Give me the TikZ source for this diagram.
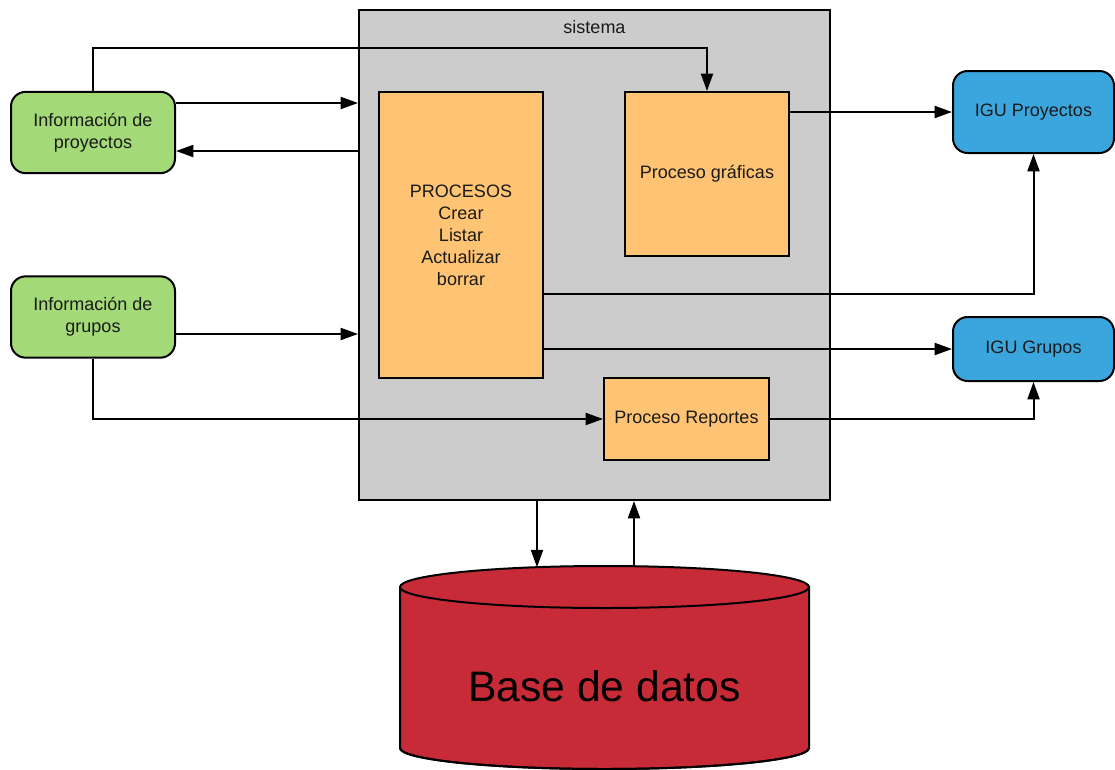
\documentclass[tikz,border=0pt]{standalone}
\usepackage{fontspec}
\setmainfont{Liberation Sans}
\usetikzlibrary{arrows.meta,calc}
\definecolor{infogreen}{HTML}{A3D977}
\definecolor{igublue}{HTML}{3BA6DE}
\definecolor{procorange}{HTML}{FFC374}
\definecolor{sysgray}{HTML}{CCCCCC}
\definecolor{dbred}{HTML}{C72B38}
\definecolor{ink}{HTML}{1A1A1A}
\begin{document}
\begin{tikzpicture}[x=0.75pt,y=-0.75pt,
  font=\fontsize{13.5}{16.5}\selectfont,
  base/.style={draw=black,line width=1.5pt,inner sep=0pt,align=center,text=ink},
  infobox/.style={base,fill=infogreen,rounded corners=11pt,minimum width=123pt,minimum height=61pt},
  igubox/.style={base,fill=igublue,rounded corners=11pt,minimum width=120.75pt},
  procbox/.style={base,fill=procorange},
  sysbox/.style={base,fill=sysgray,minimum width=353.25pt,minimum height=367.5pt},
  arr/.style={draw=black,line width=1.5pt,-{Triangle[length=13pt,width=9pt]}},
  dbshape/.style={draw=black,line width=1.5pt,fill=dbred}]
\useasboundingbox (0,0) rectangle (1115,769);

% system frame and its title
\node[sysbox] (sys) at (594.5,255) {};
\node[text=ink] (systitle) at (594.5,27) {sistema};

% external sources
\node[infobox] (infoP) at (93,132.5) {Información de\\proyectos};
\node[infobox] (infoG) at (93,317) {Información de\\grupos};

% processes inside the system
\node[procbox,minimum width=123pt,minimum height=214.5pt] (proc) at (461,235)
  {PROCESOS\\Crear\\Listar\\Actualizar\\borrar};
\node[procbox,minimum width=123pt,minimum height=123pt] (graf) at (707,174) {Proceso gráficas};
\node[procbox,minimum width=123.75pt,minimum height=61.5pt] (rep) at (686.5,419) {Proceso Reportes};

% user interfaces
\node[igubox,minimum height=61.5pt] (igP) at (1033.5,112) {IGU Proyectos};
\node[igubox,minimum height=48pt] (igG) at (1033.5,349) {IGU Grupos};

% database cylinder
\path[dbshape] (400,587) -- (400,748)
  arc[start angle=180,end angle=360,x radius=153.375pt,y radius=15.75pt]
  -- (809,587) -- cycle;
\draw[line width=1.5pt] (809,748) arc[start angle=0,end angle=-180,x radius=153.375pt,y radius=15.75pt];
\draw[dbshape] (604.5,587) ellipse[x radius=153.375pt,y radius=15.75pt];
\node[text=black,font=\fontsize{32}{38}\selectfont] (db) at (604.5,686) {Base de datos};
\coordinate (dbin) at (537,567.2);
\coordinate (dbout) at (634,566.2);

% flows
\draw[arr] (infoP.north) -- ++(0,-43) -| (graf.north);
\draw[arr] (infoP.east |- 0,103) -- (sys.west |- 0,103);
\draw[arr] (sys.west |- 0,151) -- (infoP.east |- 0,151);
\draw[arr] (infoG.east |- 0,334) -- (sys.west |- 0,334);
\draw[arr] (infoG.south) |- (rep.west);
\draw[arr] (graf.east |- igP.west) -- (igP.west);
\draw[arr] (proc.east |- 0,294) -| (igP.south);
\draw[arr] (proc.east |- igG.west) -- (igG.west);
\draw[arr] (rep.east) -| (igG.south);
\draw[arr] (sys.south -| dbin) -- (dbin);
\draw[arr] (dbout) -- (sys.south -| dbout);
\end{tikzpicture}
\end{document}
